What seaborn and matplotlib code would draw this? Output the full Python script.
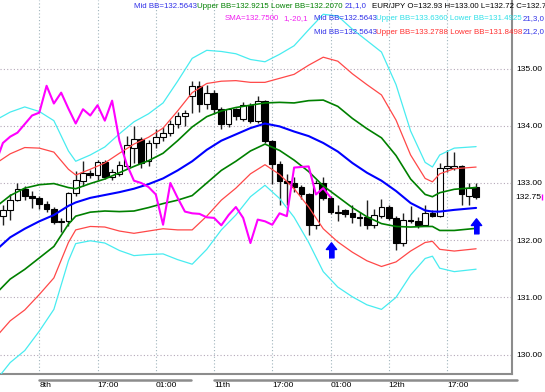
import numpy as np
import pandas as pd
import matplotlib
matplotlib.use("Agg")
import matplotlib.pyplot as plt
import matplotlib.transforms as mtransforms
import seaborn as sns

# EUR/JPY bars, left to right
opens = [132.42, 132.53, 132.71, 132.90, 132.77, 132.74, 132.64, 132.55, 132.32, 132.33,
         132.82, 133.04, 133.18, 133.14, 133.37, 133.10, 133.15, 133.30, 133.62, 133.77,
         133.38, 133.70, 133.80, 133.88, 134.03, 134.18, 134.52, 134.70, 134.39, 134.58,
         134.30, 134.04, 134.29, 134.12, 134.36, 134.09, 134.44, 133.74, 133.33, 133.04,
         133.00, 132.93, 132.80, 132.27, 133.00, 132.74, 132.50, 132.52, 132.47, 132.40,
         132.40, 132.26, 132.42, 132.58, 132.39, 131.95, 132.36, 132.33, 132.27, 132.47,
         132.42, 133.27, 133.27, 133.29, 132.78, 132.93]
highs = [132.62, 132.80, 133.00, 132.95, 132.86, 132.78, 132.68, 132.58, 132.39, 132.85,
         133.21, 133.38, 133.22, 133.41, 133.40, 133.25, 133.38, 133.82, 134.00, 133.80,
         133.75, 133.95, 133.98, 134.10, 134.25, 134.28, 134.78, 134.78, 134.72, 134.62,
         134.33, 134.32, 134.32, 134.42, 134.40, 134.52, 134.46, 133.76, 133.38, 133.15,
         133.10, 132.97, 132.82, 133.05, 133.10, 132.78, 132.62, 132.55, 132.62, 132.50,
         132.71, 132.55, 132.72, 132.62, 132.42, 132.47, 132.60, 132.40, 132.62, 132.52,
         133.35, 133.58, 133.55, 133.32, 133.00, 133.00]
lows = [132.27, 132.36, 132.68, 132.70, 132.56, 132.55, 132.50, 132.28, 132.15, 132.25,
        132.78, 132.95, 133.08, 133.05, 133.07, 133.05, 133.12, 133.25, 133.35, 133.26,
        133.30, 133.62, 133.74, 133.82, 133.97, 134.00, 134.22, 134.25, 134.30, 134.20,
        133.95, 133.98, 134.10, 134.08, 134.05, 134.05, 133.70, 132.98, 132.62, 132.62,
        132.85, 132.72, 132.09, 132.20, 132.70, 132.45, 132.33, 132.40, 132.30, 132.25,
        132.20, 132.22, 132.38, 132.35, 131.83, 131.90, 132.30, 132.22, 132.24, 132.40,
        132.40, 133.20, 133.22, 132.62, 132.62, 132.72]
closes = [132.53, 132.71, 132.90, 132.77, 132.73, 132.63, 132.55, 132.32, 132.33, 132.82,
          133.06, 133.18, 133.14, 133.37, 133.10, 133.20, 133.31, 133.66, 133.77, 133.35,
          133.70, 133.81, 133.88, 134.03, 134.18, 134.23, 134.70, 134.39, 134.58, 134.30,
          134.04, 134.29, 134.18, 134.36, 134.09, 134.44, 133.74, 133.33, 133.04, 133.00,
          132.93, 132.80, 132.27, 133.00, 132.74, 132.50, 132.47, 132.46, 132.40, 132.39,
          132.26, 132.44, 132.58, 132.39, 131.95, 132.36, 132.33, 132.27, 132.47, 132.42,
          133.27, 133.28, 133.29, 132.80, 132.91, 132.75]

# Bollinger(21): middle line and one deviation, read at these bars
bb_idx = [-1, 1, 3, 5, 7, 9, 10, 12, 14, 16, 18, 20, 22, 24, 26, 28, 30, 32, 34, 36,
          38, 40, 42, 44, 46, 48, 50, 52, 54, 56, 58, 59, 60, 62, 65]
bb_mid = [131.82, 132.05, 132.20, 132.33, 132.44, 132.60, 132.66, 132.74, 132.79, 132.84,
          132.90, 132.98, 133.08, 133.22, 133.38, 133.58, 133.74, 133.85, 133.96, 134.04,
          133.99, 133.90, 133.82, 133.70, 133.55, 133.35, 133.18, 133.04, 132.86, 132.65,
          132.52, 132.50, 132.50, 132.53, 132.5643]
bb_sd = [0.76, 0.73, 0.71, 0.64, 0.55, 0.32, 0.24, 0.25, 0.28, 0.34,
         0.39, 0.41, 0.44, 0.52, 0.60, 0.58, 0.52, 0.47, 0.40, 0.36,
         0.42, 0.50, 0.62, 0.75, 0.79, 0.78, 0.77, 0.75, 0.62, 0.42,
         0.28, 0.26, 0.33, 0.36, 0.3572]

sma_shift = -20
tick_pos = [5, 13, 21, 29, 37, 45, 53, 61]
tick_txt = ['8th', '17:00', '01:00', '11th', '17:00', '01:00', '12th', '17:00']
price_ticks = [130, 131, 132, 133, 134, 135]
last_price = 132.75
arrow_idx = [45, 65]
arrow_price = [131.85, 132.27]
sessions = [(5, 25.8), (29, 70.6)]

sns.set_style("white")
plt.rcParams['font.family'] = ['Liberation Sans', 'DejaVu Sans']
FS = 6.1    # axis labels
CFS = 5.7   # indicator captions

fig = plt.figure(figsize=(5.45, 3.92), dpi=100)
ax = fig.add_axes([0, 18 / 392, 512 / 545, 374 / 392])
ax.set_xlim(-0.4, 69.93)
ax.set_ylim(129.66, 136.20)

# grid
for p in price_ticks:
    ax.axhline(p, color='#b4a8b8', lw=0.8, ls=(0, (1, 2)), zorder=1)
for t, lab in zip(tick_pos, tick_txt):
    col = '#d8a0b4' if lab[0].isalpha() else '#a0b4bc'
    ax.axvline(t, color=col, lw=0.8, ls=(0, (1, 2)), zorder=1)

# candles
df = pd.DataFrame({'o': opens, 'h': highs, 'l': lows, 'c': closes})
df['i'] = np.arange(len(df))
up = df['c'] >= df['o']
ax.vlines(df['i'], df['l'], df['h'], color='#202020', lw=1, zorder=2)
body = (df['c'] - df['o']).abs().clip(lower=0.02)
ax.bar(df['i'], body, bottom=df[['o', 'c']].min(axis=1), width=0.78,
       color=np.where(up, 'white', 'black'), edgecolor='black', lw=0.8, zorder=3)

# bands
mid = np.array(bb_mid)
sd = np.array(bb_sd)
for k, col, lw in [(3, '#48ecf0', 0.9), (2, '#ff4848', 0.9), (1, '#008000', 1.2)]:
    sns.lineplot(x=bb_idx, y=mid + k * sd, color=col, lw=lw, ax=ax, zorder=4)
    sns.lineplot(x=bb_idx, y=mid - k * sd, color=col, lw=lw, ax=ax, zorder=4)
sns.lineplot(x=bb_idx, y=mid, color='#0000ff', lw=1.5, ax=ax, zorder=5)

# close shifted back 20 bars
sh = np.arange(19, len(closes))
sns.lineplot(x=sh + sma_shift, y=np.array(closes)[sh], color='#ff00ff', lw=1.5, ax=ax, zorder=5)

# signal arrows
arrow = [(-0.3, -1), (0.3, -1), (0.3, 0), (0.62, 0), (0, 0.8), (-0.62, 0), (-0.3, 0)]
ax.plot(arrow_idx, arrow_price, ls='none', marker=arrow, ms=12, color='#0000ff', zorder=6)

# axes
for s in ['left', 'top']:
    ax.spines[s].set_visible(False)
for s in ['right', 'bottom']:
    ax.spines[s].set_color('#8c8c8c')
    ax.spines[s].set_linewidth(1.5)
ax.yaxis.tick_right()
ax.set_yticks(price_ticks)
ax.set_yticklabels(['%.2f' % p for p in price_ticks])
ax.set_xticks(tick_pos)
ax.set_xticklabels(tick_txt, ha='left')
ax.tick_params(axis='y', length=0, pad=3, labelsize=FS, colors='black')
ax.tick_params(axis='x', length=0, pad=6, labelsize=FS, colors='black')
ax.set_xlabel('')
ax.set_ylabel('')

tr = mtransforms.blended_transform_factory(ax.transAxes, ax.transData)
ax.text(1 + 3 / 512, last_price, '%.2f' % last_price, transform=tr, va='center', ha='left',
        fontsize=FS, color='black')
ax.plot([1 + 30 / 512], [last_price], transform=tr, marker='|', ms=4, color='#ff00ff',
        clip_on=False)

trx = mtransforms.blended_transform_factory(ax.transData, ax.transAxes)
for a, b in sessions:
    ax.plot([a, b], [-6 / 374, -6 / 374], transform=trx, color='#8c8c8c', lw=1.8, clip_on=False)

# indicator captions
def cap(x, y, s, c):
    fig.text(x / 545, 1 - y / 392, s, color=c, fontsize=CFS, ha='left', va='center')

BL, GR, MG, CY, RD = '#3030e8', '#008000', '#f020f0', '#30e0e8', '#ff3030'
cap(134, 6, 'Mid BB=132.5643', BL)
cap(197, 6, 'Upper BB=132.9215 Lower BB=132.2070', GR)
cap(345, 6, '21,1,0', BL)
cap(372, 6, 'EUR/JPY O=132.93 H=133.00 L=132.72 C=132.75', 'black')
cap(225, 19, 'SMA=132.7500', MG)
cap(283, 19, '1,-20,1', MG)
cap(314, 19, 'Mid BB=132.5643', BL)
cap(376, 19, 'Upper BB=133.6360 Lower BB=131.4925', CY)
cap(523, 19, '21,3,0', BL)
cap(314, 32, 'Mid BB=132.5643', BL)
cap(376, 32, 'Upper BB=133.2788 Lower BB=131.8498', RD)
cap(523, 32, '21,2,0', BL)

fig.savefig('out.png', dpi=100)
